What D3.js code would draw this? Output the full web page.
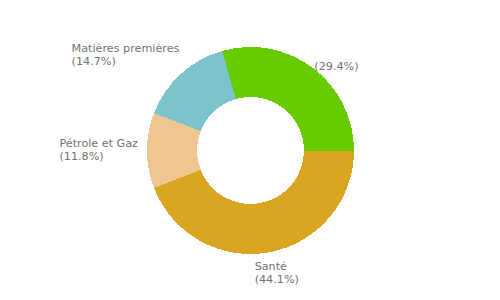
<!DOCTYPE html>
<html><head><meta charset="utf-8">
<script src="https://cdn.jsdelivr.net/npm/d3@7"></script>
<style>html,body{margin:0;padding:0;background:#fff;}</style>
</head><body>
<svg id="chart" width="500" height="300"></svg>
<script>
const categories = ["Santé", "Pétrole et Gaz", "Matières premières", ""];
const values = [44.1, 11.8, 14.7, 29.4];
const colors = ["#DAA520", "#EFC592", "#7BC4CC", "#66CC00"];

const W = 500, H = 300, cx = 250.5, cy = 150.5;
const outerR = 103.5, innerR = 53.5, labelR = 112.5;
const fontSize = 11.2, lineH = 13.2;

const svg = d3.select("#chart");
const g = svg.append("g").attr("transform", `translate(${cx},${cy})`);

const pie = d3.pie().sort(null).value(d => d.v)
  .startAngle(Math.PI / 2).endAngle(Math.PI / 2 + 2 * Math.PI);
const data = categories.map((c, i) => ({ name: c, v: values[i], color: colors[i] }));
const arcs = pie(data);
const arc = d3.arc().innerRadius(innerR).outerRadius(outerR);

g.selectAll("path.slice").data(arcs).enter().append("path")
  .attr("class", "slice")
  .attr("d", arc)
  .attr("fill", d => d.data.color)
  .attr("shape-rendering", "crispEdges");

const fmt = d3.format(".1f");
const labels = g.selectAll("g.lab").data(arcs).enter().append("g").attr("class", "lab");
labels.each(function (d) {
  const sel = d3.select(this);
  const lines = [d.data.name, "(" + fmt(d.data.v) + "%)"];
  const a = (d.startAngle + d.endAngle) / 2;
  const s = Math.sin(a), c = Math.cos(a);
  const px = labelR * s, py = -labelR * c;
  const texts = lines.map((ln, i) => sel.append("text")
    .attr("font-family", "DejaVu Sans, sans-serif")
    .attr("font-size", fontSize)
    .attr("fill", "#737373")
    .attr("y", i * lineH)
    .text(ln));
  const w = d3.max(texts, t => t.node().getComputedTextLength());
  const h = lines.length * 12;
  const fx = Math.max(0, Math.min(1, 0.5 - 0.68 * s));
  let fy = Math.max(0, Math.min(1, 0.5 + c * 0.7));
  if (!d.data.name) fy = 0.5;
  const bx = px - w * fx;
  const by = py - h * fy;
  sel.attr("transform", `translate(${bx},${by + 11.5 * 0.82 - 1})`);
});
</script>
</body></html>
